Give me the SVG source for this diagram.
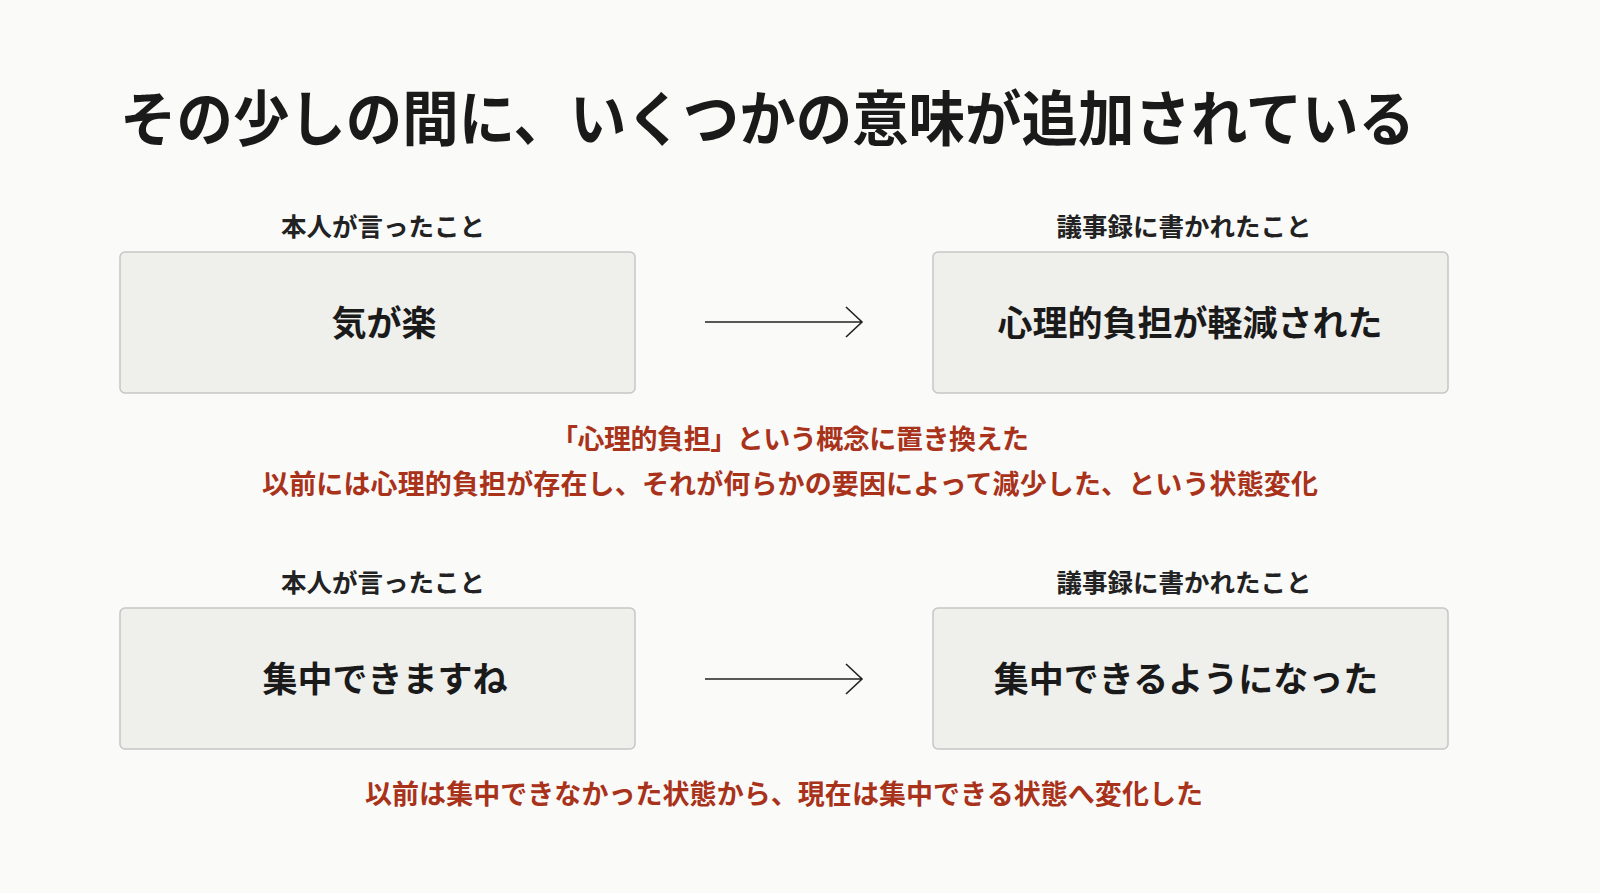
<svg xmlns="http://www.w3.org/2000/svg" width="1600" height="893" viewBox="0 0 1600 893">
<style>
text{font-family:"Noto Sans CJK JP","Noto Sans",sans-serif;text-anchor:middle;font-weight:bold}
.t{font-size:60px;text-anchor:start;fill:#1a1a1a}
.lb{font-size:25.5px;fill:#222}
.bx{fill:#efefec;stroke:#c6c6c4;stroke-width:1.5}
.bt{font-size:35px;fill:#1a1a1a}
.r{font-size:27px;fill:#a8321a}
.ar{stroke:#222;stroke-width:1.6;fill:none}
</style>
<rect width="1600" height="893" fill="#fafaf9"/>
<text class="t" x="120" y="141" textLength="1295" lengthAdjust="spacingAndGlyphs">その少しの間に、いくつかの意味が追加されている</text>
<g id="n1"><text class="lb" x="383" y="236">本人が言ったこと</text><rect class="bx" x="120" y="252" width="515" height="141" rx="5"/><text class="bt" x="384" y="336">気が楽</text></g>
<g id="n2"><text class="lb" x="1184" y="236">議事録に書かれたこと</text><rect class="bx" x="933" y="252" width="515" height="141" rx="5"/><text class="bt" x="1190" y="336">心理的負担が軽減された</text></g>
<g id="n3"><text class="lb" x="383" y="592">本人が言ったこと</text><rect class="bx" x="120" y="608" width="515" height="141" rx="5"/><text class="bt" x="385" y="692">集中できますね</text></g>
<g id="n4"><text class="lb" x="1184" y="592">議事録に書かれたこと</text><rect class="bx" x="933" y="608" width="515" height="141" rx="5"/><text class="bt" x="1186" y="692">集中できるようになった</text></g>
<g id="connectors">
<path class="ar" d="M705 322H862M846 307L862 322L846 337"/>
<path class="ar" d="M705 679H862M846 664L862 679L846 694"/>
</g>
<g id="notes">
<text class="r" x="790" y="449" textLength="478">「心理的負担」という概念に置き換えた</text>
<text class="r" x="790" y="494" textLength="1056">以前には心理的負担が存在し、それが何らかの要因によって減少した、という状態変化</text>
<text class="r" x="784" y="804" textLength="838">以前は集中できなかった状態から、現在は集中できる状態へ変化した</text>
</g>
</svg>
